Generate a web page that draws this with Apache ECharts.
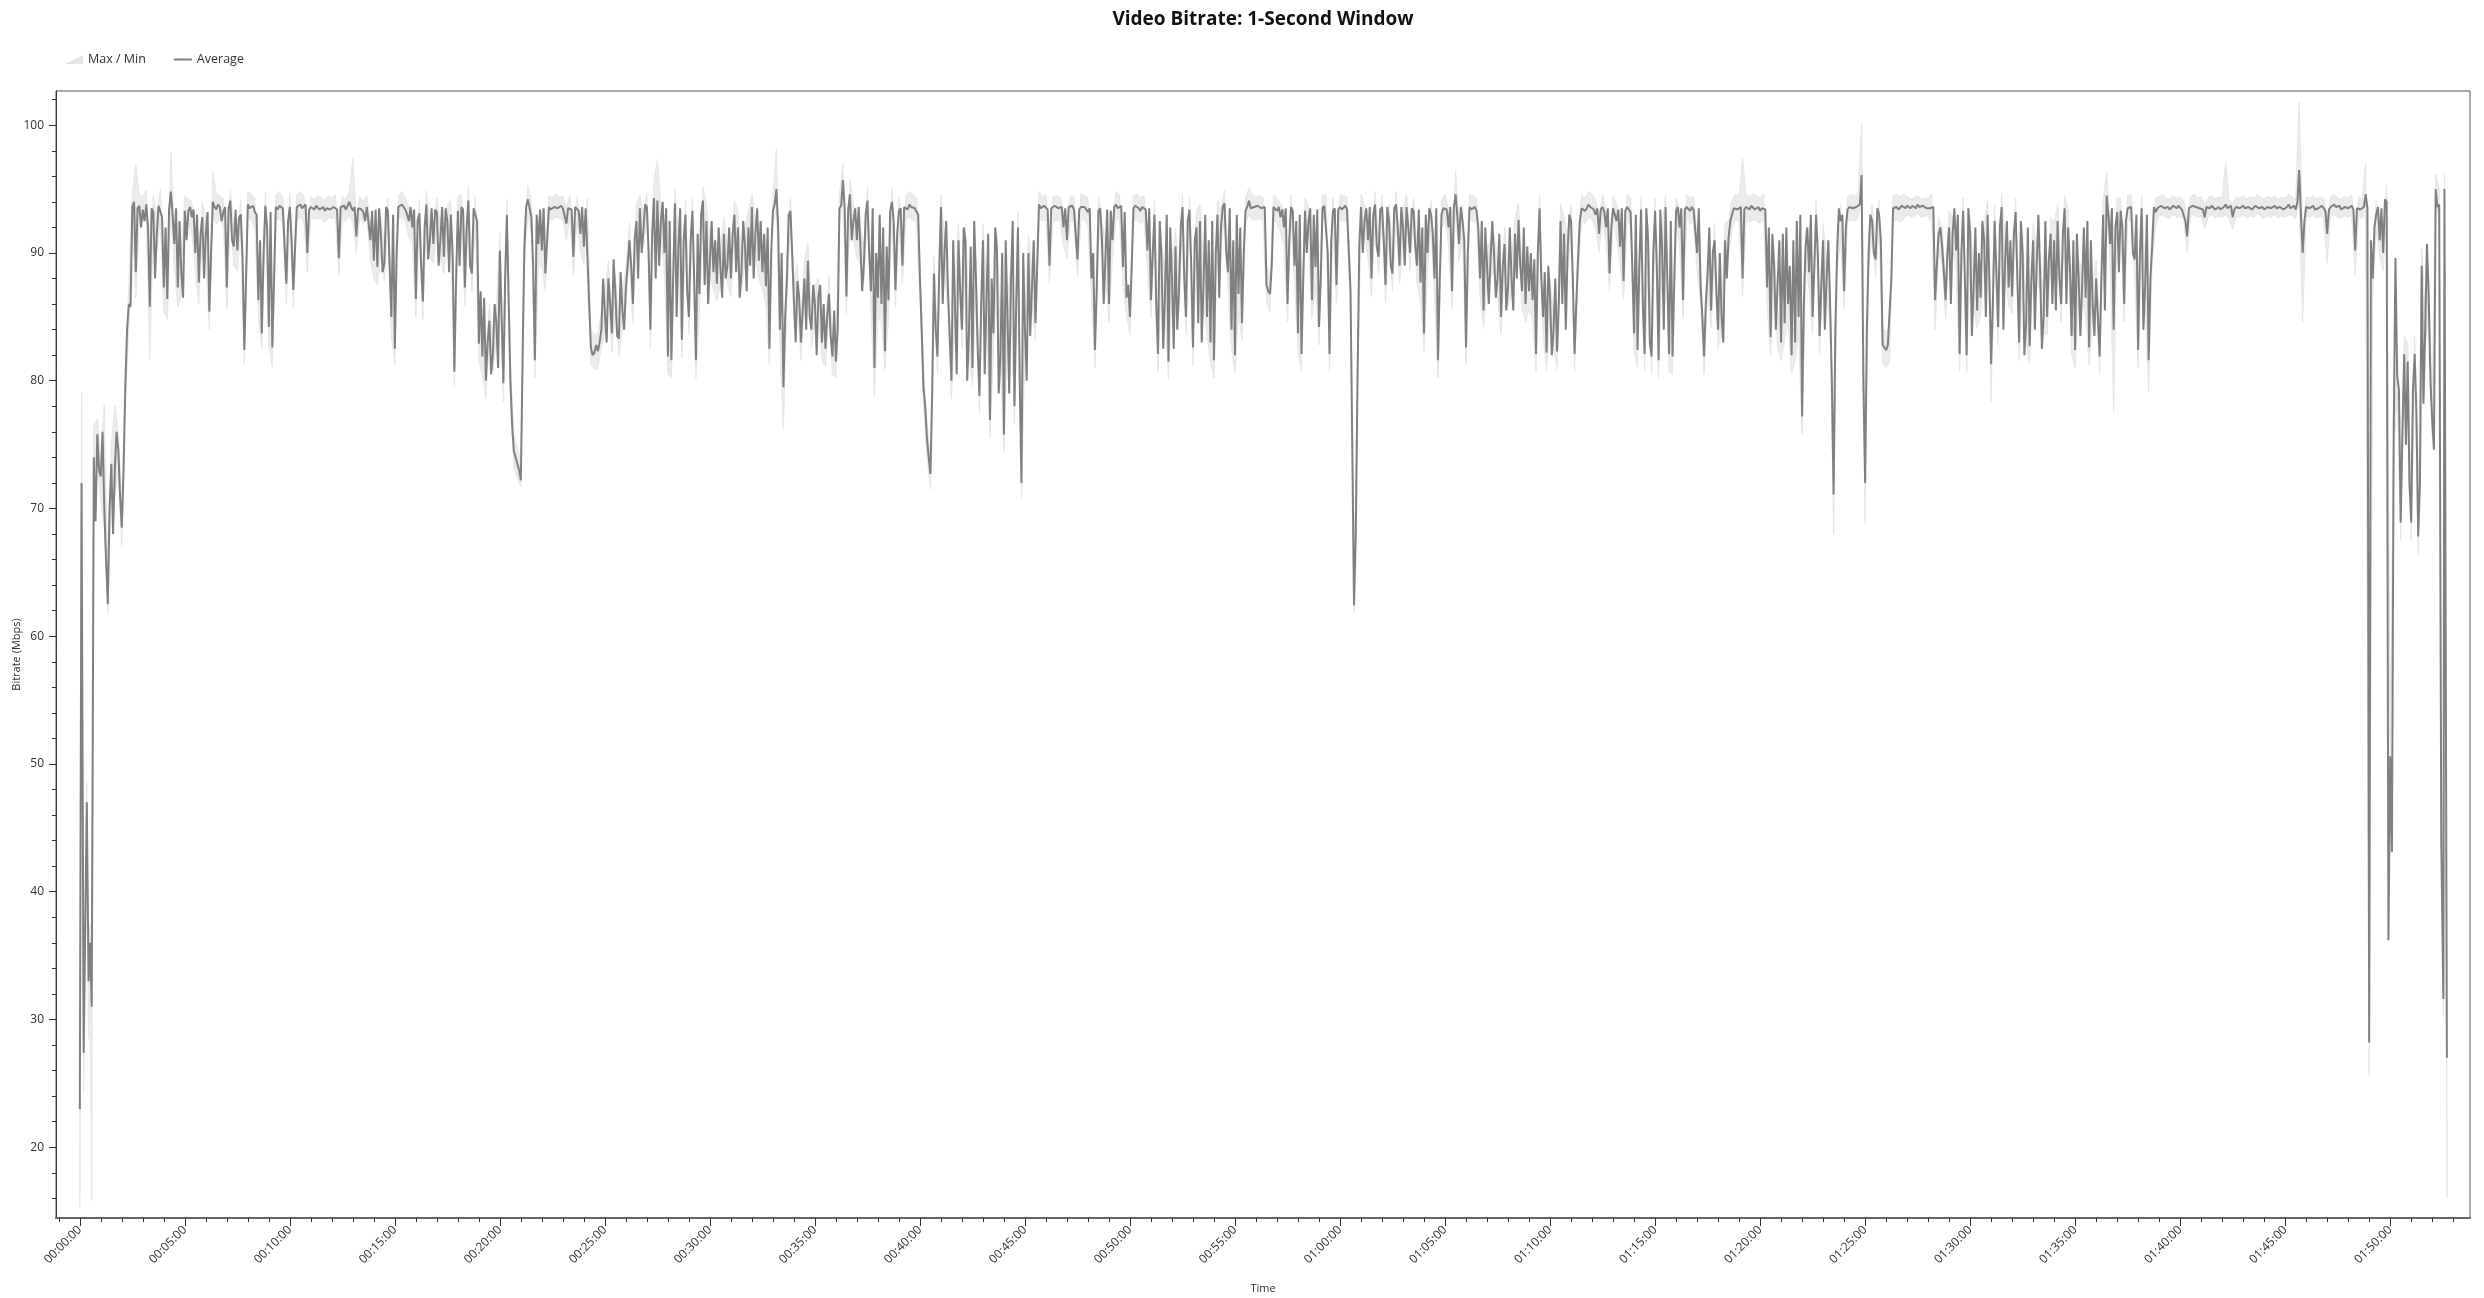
<!DOCTYPE html>
<html>
<head>
<meta charset="utf-8">
<script src="https://cdn.jsdelivr.net/npm/echarts@6/dist/echarts.min.js"></script>
<style>html,body{margin:0;padding:0;background:#fff}#chart{width:2484px;height:1298px}</style>
</head>
<body>
<div id="chart"></div>
<script>
const chartTitle = 'Video Bitrate: 1-Second Window';
const xAxisName = 'Time';
const yAxisName = 'Bitrate (Mbps)';
const xLabelValues = [0,300,600,900,1200,1500,1800,2100,2400,2700,3000,3300,3600,3900,4200,4500,4800,5100,5400,5700,6000,6300,6600];
const yLabelValues = [20,30,40,50,60,70,80,90,100];

// first seconds (irregular sampling)
const headTimes = [0, 5, 11, 20, 25, 29, 34];
const headAvg = [23.0, 72.0, 27.4, 47.0, 33.0, 36.0, 31.0];
const headMax = [24.5, 79.0, 28.6, 48.5, 34.5, 37.5, 32.2];
const headMin = [15.3, 70.0, 24.2, 45.0, 28.5, 32.0, 15.8];

// samples every 10 s from 00:00:40 to 01:52:20
const gridStart = 40;
const gridStep = 10;
const avgMbps = [
74.0,75.8,
72.5,70.0,62.5,73.5,73.0,74.6,
68.5,79.5,86.0,93.6,88.5,93.7,
93.4,93.8,85.8,93.2,91.5,93.6,
87.3,86.4,94.8,90.7,87.3,88.4,
93.3,93.3,92.8,90.0,87.7,92.8,
91.5,85.4,94.0,93.4,93.6,93.2,
87.3,94.1,90.5,90.2,93.0,82.4,
93.8,93.6,93.2,86.3,83.7,93.7,
84.2,82.6,93.6,93.7,93.5,87.6,
93.6,87.1,93.6,93.8,93.5,90.0,
93.6,93.4,93.6,93.5,93.3,93.6,
93.5,93.7,89.6,93.5,93.4,94.0,
93.3,91.3,93.6,93.2,93.6,91.0,
89.4,88.9,91.5,89.2,93.3,85.0,
82.5,93.6,93.8,93.4,92.5,92.0,
86.4,93.1,86.2,93.8,91.0,90.7,
93.2,91.0,89.7,92.5,93.0,80.7,
93.3,93.6,87.3,94.1,88.4,93.6,
82.9,81.9,80.0,84.7,82.1,84.5,
90.2,79.8,93.0,80.0,74.5,73.5,
72.2,90.5,94.2,92.8,81.6,90.7,
90.2,88.4,93.6,93.5,93.7,93.6,
93.5,92.3,93.6,89.7,93.5,91.5,
90.5,93.4,82.6,82.2,82.3,84.0,
85.3,88.0,83.7,86.8,83.3,85.5,
87.3,91.0,86.0,92.5,93.5,91.8,
93.6,84.0,94.3,94.1,92.5,90.0,
81.9,81.6,93.9,90.5,83.2,93.0,
85.0,93.3,81.6,86.8,94.1,92.5,
89.4,88.5,87.6,88.9,91.5,89.0,
88.0,93.0,92.0,88.4,90.7,92.0,
93.6,91.5,89.4,88.5,87.4,82.5,
93.3,95.0,84.0,79.5,88.0,93.3,
86.3,87.8,83.0,88.0,89.4,84.0,
86.0,86.6,83.0,82.5,86.8,81.9,
81.5,93.5,95.7,86.6,94.6,92.5,
91.0,90.5,89.2,94.1,87.0,81.0,
86.5,86.0,82.3,86.3,94.0,87.1,
93.3,89.0,93.6,93.8,93.6,93.4,
88.0,79.5,75.5,72.7,88.4,81.9,
93.6,90.0,87.0,80.0,86.0,91.0,
84.0,91.0,83.7,81.0,88.0,78.8,
91.0,86.3,76.9,83.7,90.2,82.0,
75.8,85.0,87.8,78.0,92.0,72.0,
84.0,90.0,87.3,84.5,93.8,93.5,
93.6,89.0,93.4,93.6,93.5,92.0,
91.0,93.5,93.4,89.5,93.6,93.6,
93.2,88.0,82.4,93.3,91.0,89.7,
86.0,91.0,93.8,93.6,88.9,86.5,
85.0,93.5,93.6,93.3,93.5,90.2,
86.3,93.0,82.1,89.7,86.8,81.5,
88.0,90.5,87.0,93.6,85.0,93.4,
82.6,92.0,92.5,87.5,85.0,83.0,
81.6,93.0,92.0,93.9,88.5,84.0,
82.0,86.8,84.5,93.3,94.1,93.6,
93.5,93.6,93.4,87.5,86.8,93.6,
93.3,92.8,92.0,86.0,93.6,89.0,
83.7,82.1,93.3,92.5,86.3,88.9,
84.2,93.5,93.6,82.1,93.3,87.5,
93.6,93.5,93.4,87.0,62.4,80.0,
93.6,92.5,91.0,88.0,93.8,89.7,
93.6,87.5,92.5,88.4,93.8,89.0,
92.0,93.6,90.0,93.3,89.0,87.7,
83.7,90.0,93.0,88.0,81.6,93.0,
93.6,92.0,87.0,94.6,90.7,92.5,
82.6,93.6,93.5,93.3,88.0,85.5,
89.0,89.5,89.9,88.0,85.0,90.7,
87.3,88.0,91.5,92.6,87.0,86.0,
87.0,86.3,82.1,93.5,85.0,82.2,
86.5,84.0,82.3,92.5,91.5,90.0,
92.5,82.1,89.5,93.5,93.3,93.8,
93.6,93.0,91.5,93.6,92.0,88.4,
93.5,92.5,90.5,87.8,93.6,93.2,
83.7,82.4,93.4,82.1,91.0,81.9,
93.3,81.6,90.5,93.6,82.1,81.9,
93.3,92.0,86.3,93.6,93.3,93.4,
90.0,87.5,81.9,88.4,85.5,91.0,
84.0,85.0,91.0,91.2,93.0,93.6,
93.5,88.0,93.6,93.4,93.6,93.5,
93.3,93.6,87.3,83.4,89.0,84.0,
83.0,84.5,86.0,82.0,83.0,85.0,
77.2,90.5,88.5,85.0,93.0,83.5,
91.0,88.0,86.0,71.1,90.0,92.5,
87.0,93.4,93.6,93.5,93.7,96.1,
72.0,90.0,92.5,89.5,93.0,82.8,
82.4,82.9,93.5,93.6,93.4,93.6,
93.7,93.5,93.6,93.8,93.5,93.6,
93.6,93.4,86.3,91.5,90.5,86.3,
92.0,91.5,90.2,82.1,93.3,82.0,
91.5,87.3,85.5,86.5,91.0,93.0,
81.3,92.5,84.2,93.6,89.4,87.3,
86.6,93.2,83.0,90.0,84.5,82.7,
91.0,89.0,88.5,85.0,85.0,91.5,
91.0,92.5,86.0,93.5,92.0,83.5,
82.4,88.0,87.5,86.5,82.6,86.0,
88.0,81.9,93.0,94.5,90.7,84.0,
93.2,93.3,86.0,93.5,93.6,89.5,
82.4,93.5,87.4,81.6,90.5,93.2,
93.6,93.8,93.5,93.4,93.7,93.5,
93.6,93.3,91.3,93.6,93.8,93.5,
93.6,92.8,93.5,93.7,93.4,93.6,
93.5,93.8,93.4,92.8,93.6,93.5,
93.7,93.4,93.6,93.5,93.8,93.6,
93.4,93.6,93.5,93.7,93.4,93.6,
93.5,93.8,93.6,93.4,96.5,90.0,
93.6,93.5,93.7,93.4,93.6,93.5,
91.5,93.6,93.8,93.5,93.4,93.6,
93.5,93.7,90.2,93.6,93.4,94.6,
28.2,88.0,93.0,91.0,90.0,94.0,
50.6,75.8,80.4,68.9,82.1,81.5,
68.9,82.1,67.8,89.0,84.0,86.7,
76.9,95.0,93.8
];
// samples half-way between the 10 s samples (00:00:45 ... 01:52:15)
const midMbps = [
69.0,73.0,
76.0,66.0,70.0,68.0,76.0,71.0,
73.0,84.0,85.8,94.0,93.5,92.0,
92.5,92.0,93.5,88.0,93.7,92.8,
92.0,93.4,93.0,93.5,92.5,86.5,
91.0,93.6,93.4,93.0,91.5,88.0,
93.2,90.0,93.6,93.8,92.5,93.6,
93.5,91.0,93.4,92.8,89.5,88.0,
93.5,93.7,93.0,91.0,90.0,92.0,
93.2,88.0,93.4,93.8,93.6,92.5,
91.0,90.5,93.7,93.5,93.8,93.4,
93.5,93.7,93.4,93.6,93.5,93.4,
93.6,93.4,93.6,93.7,93.5,93.6,
93.6,93.5,93.4,92.5,93.5,93.3,
93.4,93.5,88.5,93.6,89.0,93.0,
90.0,93.5,93.6,93.0,93.6,93.4,
92.5,89.0,92.0,89.5,93.5,93.4,
89.0,93.6,93.5,88.5,90.0,88.0,
89.0,93.4,92.0,89.0,93.5,92.5,
87.0,86.5,83.0,80.5,86.0,81.0,
85.0,88.0,86.5,76.5,74.0,73.0,
82.0,93.6,93.5,89.0,93.0,93.4,
93.5,91.0,93.4,93.6,93.5,93.7,
93.6,93.5,93.4,93.6,93.3,93.6,
93.5,86.0,82.0,82.8,83.0,88.0,
83.0,86.0,89.5,83.5,88.5,84.0,
89.0,89.0,91.0,88.0,90.0,93.8,
90.0,91.5,88.0,89.0,94.0,93.5,
92.5,88.0,85.0,93.5,91.0,87.0,
91.0,88.0,91.5,93.0,87.5,86.0,
92.5,91.0,92.0,86.5,88.0,92.0,
91.5,88.5,86.5,92.5,87.0,89.0,
88.0,93.5,92.5,91.5,92.0,90.0,
93.8,92.0,90.0,85.0,93.0,90.0,
83.0,86.5,85.5,84.0,85.0,87.5,
82.0,87.5,86.0,85.0,83.5,85.5,
84.0,93.7,93.5,93.4,91.0,93.5,
93.6,87.0,93.0,90.0,93.5,90.0,
93.0,92.0,90.5,93.3,92.5,91.5,
93.5,93.6,93.4,93.6,93.5,93.0,
84.0,78.0,74.0,79.0,84.0,88.5,
86.0,92.5,83.5,91.0,80.5,87.0,
92.0,80.0,90.5,92.5,82.5,86.0,
80.5,91.5,88.0,92.0,79.0,90.0,
91.0,79.0,92.5,86.0,80.0,90.0,
80.0,83.5,91.0,89.0,93.5,93.7,
93.4,93.5,93.7,93.5,93.6,93.5,
93.6,93.7,93.5,93.4,93.5,93.6,
93.5,90.0,87.0,93.5,86.0,93.4,
93.3,93.6,93.5,93.7,93.2,87.5,
89.0,93.7,93.5,93.6,93.4,93.5,
90.0,86.0,92.5,82.5,93.0,92.0,
82.5,84.0,92.0,88.0,92.5,89.0,
91.0,84.5,83.0,93.0,91.0,92.5,
90.0,86.5,93.6,90.0,93.5,91.0,
93.0,92.0,90.0,93.6,93.5,93.6,
93.7,93.5,93.6,87.0,89.0,93.5,
93.6,93.4,93.5,91.0,93.3,92.5,
93.0,88.0,90.0,93.5,93.0,93.4,
88.0,93.7,90.0,91.0,93.5,93.4,
93.4,93.7,93.5,75.0,68.0,90.5,
90.0,93.5,93.6,93.0,90.5,93.4,
91.0,93.6,89.0,93.5,92.0,93.6,
89.0,92.0,93.5,90.5,93.4,92.0,
93.0,93.5,91.5,93.5,88.0,93.5,
93.4,93.6,93.5,93.0,93.6,91.0,
90.0,93.4,93.6,92.0,92.5,92.0,
86.0,92.5,86.5,91.5,89.0,85.5,
92.0,85.5,88.0,89.0,92.0,90.5,
90.0,89.5,90.0,88.0,88.5,89.0,
82.0,88.0,86.0,86.0,84.0,93.0,
88.0,86.0,92.5,93.6,93.5,93.6,
93.4,93.5,93.4,93.2,93.5,92.0,
93.6,93.4,93.5,93.3,93.5,89.0,
93.0,89.0,86.0,93.5,83.0,90.0,
89.0,93.4,84.0,88.0,92.5,88.0,
93.6,93.5,93.4,93.5,93.6,93.4,
93.5,85.0,86.0,92.0,90.0,87.0,
90.0,83.0,88.0,92.5,93.5,93.4,
93.6,93.4,93.5,93.7,93.4,93.6,
93.5,93.4,92.0,91.5,84.0,91.0,
91.5,92.0,89.0,91.0,92.5,93.0,
86.0,92.0,93.0,89.0,90.0,87.5,
84.0,91.0,80.0,84.0,93.5,93.0,
92.0,93.6,93.5,93.6,93.8,80.0,
84.0,93.0,90.0,93.5,91.0,82.6,
82.8,88.0,93.6,93.4,93.7,93.5,
93.6,93.7,93.5,93.6,93.7,93.5,
93.5,93.6,89.0,92.0,88.5,90.0,
86.0,93.5,93.0,90.0,88.0,93.5,
83.5,92.0,90.0,92.5,85.0,88.0,
86.0,88.5,92.0,84.0,92.5,91.0,
91.5,88.0,92.5,82.0,92.0,88.0,
84.0,93.0,82.5,92.5,89.5,86.0,
85.5,88.0,91.5,86.0,89.0,91.0,
91.5,83.5,92.0,92.5,91.0,83.5,
85.0,88.0,85.5,93.0,93.5,92.0,
88.5,92.0,92.5,93.4,90.0,93.0,
90.0,84.0,93.0,88.0,93.6,93.5,
93.7,93.5,93.6,93.5,93.6,93.7,
93.4,92.5,93.5,93.7,93.6,93.5,
93.4,93.6,93.5,93.6,93.5,93.4,
93.6,93.5,93.7,93.4,93.5,93.6,
93.5,93.6,93.4,93.7,93.5,93.6,
93.5,93.7,93.6,93.5,93.6,93.4,
93.6,93.5,93.7,94.0,93.0,92.5,
93.5,93.6,93.4,93.5,93.7,93.3,
93.4,93.5,93.6,93.7,93.5,93.6,
93.6,93.4,93.5,93.4,93.6,93.5,
91.0,92.0,93.6,93.5,94.2,36.2,
43.1,89.6,79.3,76.0,75.0,72.0,
79.3,77.5,72.0,78.2,90.7,80.0,
74.6,93.6
];
const maxMbps = [
76.5,77.0,
74.0,78.2,64.0,75.0,78.0,76.0,
70.0,81.0,87.5,94.6,96.9,94.6,
94.4,94.9,87.0,94.5,92.8,95.0,
88.8,87.9,97.9,92.0,88.8,89.8,
94.5,94.2,94.0,91.5,89.0,94.0,
92.8,86.8,96.3,94.6,94.5,94.2,
88.8,95.0,92.0,91.5,94.2,83.8,
94.8,94.6,94.3,87.8,85.0,94.7,
85.5,84.0,94.5,94.8,94.4,89.0,
94.7,88.5,94.6,94.8,94.5,91.4,
94.4,94.2,94.5,94.3,94.1,94.5,
94.3,94.6,91.0,94.4,94.2,94.9,
97.4,92.6,94.4,94.1,94.5,92.4,
90.8,90.2,92.8,90.6,94.3,86.4,
83.9,94.5,94.8,94.3,93.6,93.2,
87.8,94.2,87.6,94.9,92.4,92.0,
94.3,92.3,91.0,93.8,94.2,82.0,
94.4,94.6,88.8,95.2,89.8,94.5,
84.4,83.3,81.5,86.0,83.5,86.0,
91.6,81.2,94.2,81.4,75.8,74.8,
73.5,91.9,95.3,94.0,83.0,92.0,
91.5,89.8,94.5,94.3,94.6,94.4,
94.4,93.5,94.5,91.0,94.4,92.8,
91.8,94.3,84.0,83.6,83.7,85.4,
86.8,89.4,85.2,88.2,84.7,87.0,
88.8,92.4,87.5,93.8,94.5,93.1,
94.7,85.5,95.6,97.3,93.8,91.4,
83.3,83.0,95.0,91.8,84.6,94.1,
86.5,94.4,83.0,88.2,95.2,93.8,
90.8,89.9,89.0,90.3,92.8,90.4,
89.4,94.1,93.3,89.8,92.0,93.3,
94.6,92.8,90.8,89.9,88.8,83.9,
94.4,98.2,85.4,80.9,89.4,94.4,
87.8,89.2,84.4,89.4,90.8,85.4,
87.5,88.0,84.4,83.9,88.2,83.3,
82.9,94.6,97.0,88.0,95.7,93.8,
92.3,91.9,90.6,95.2,88.4,82.4,
88.0,87.4,83.7,87.7,95.1,88.5,
94.4,90.4,94.5,94.8,94.6,94.3,
89.4,80.9,76.9,74.0,89.8,83.3,
94.6,91.4,88.4,81.4,87.4,92.3,
85.4,92.3,85.1,82.4,89.4,80.2,
92.3,87.7,78.3,85.1,91.5,83.4,
77.2,86.4,89.2,79.4,93.3,73.4,
85.4,91.4,88.7,85.9,94.8,94.4,
94.6,90.4,94.4,94.5,94.4,93.3,
92.3,94.5,94.4,90.9,94.6,94.5,
94.3,89.4,83.8,94.4,92.3,91.1,
87.4,92.3,94.8,94.6,90.3,87.9,
86.4,94.5,94.6,94.3,94.5,91.6,
87.7,94.1,83.5,91.1,88.2,82.9,
89.4,91.9,88.4,94.6,86.4,94.4,
84.0,93.3,93.8,88.9,86.4,84.4,
83.0,94.1,93.3,94.9,89.9,85.4,
83.4,88.2,85.9,94.3,95.1,94.5,
94.4,94.5,94.3,88.9,88.2,94.5,
94.3,93.9,93.3,87.4,94.6,90.4,
85.1,83.5,94.3,93.8,87.7,90.3,
85.6,94.5,94.6,83.5,94.3,88.9,
94.6,94.5,94.4,88.4,63.8,81.4,
94.6,93.8,92.3,89.4,94.8,91.1,
94.6,88.9,93.8,89.8,94.8,90.4,
93.3,94.6,91.4,94.3,90.4,89.1,
85.1,91.4,94.1,89.4,83.0,94.1,
94.6,93.3,88.4,96.5,92.1,93.8,
84.0,94.6,94.5,94.3,89.4,86.9,
90.4,90.9,91.3,89.4,86.4,92.1,
88.7,89.4,92.8,93.9,88.4,87.4,
88.4,87.7,83.5,94.5,86.4,83.6,
87.9,85.4,83.7,93.8,92.8,91.4,
93.8,83.5,90.9,94.5,94.3,94.8,
94.6,94.1,92.8,94.6,93.3,89.8,
94.5,93.8,91.9,89.2,94.6,94.3,
85.1,83.8,94.4,83.5,92.3,83.3,
94.3,83.0,91.9,94.6,83.5,83.3,
94.3,93.3,87.7,94.6,94.3,94.4,
91.4,88.9,83.3,89.8,86.9,92.3,
85.4,86.4,92.3,92.5,94.1,94.6,
94.5,97.4,94.6,94.4,94.6,94.5,
94.3,94.6,88.7,84.8,90.4,85.4,
84.4,85.9,87.4,83.4,84.4,86.4,
78.6,91.9,89.9,86.4,94.1,84.9,
92.3,89.4,87.4,72.5,91.4,93.8,
88.4,94.4,94.6,94.5,94.7,100.1,
73.4,91.4,93.8,90.9,94.1,84.2,
83.8,84.3,94.5,94.6,94.4,94.6,
94.4,94.2,94.3,94.5,94.2,94.3,
94.3,94.6,87.7,92.8,91.9,87.7,
93.3,92.8,91.6,83.5,94.3,83.4,
92.8,88.7,86.9,87.9,92.3,94.1,
82.7,93.8,85.6,94.6,90.8,88.7,
88.0,94.3,84.4,91.4,85.9,84.1,
92.3,90.4,89.9,86.4,86.4,92.8,
92.3,93.8,87.4,94.5,93.3,84.9,
83.8,89.4,88.9,87.9,84.0,87.4,
89.4,83.3,94.1,96.4,92.1,85.4,
94.3,94.3,87.4,94.5,94.6,90.9,
83.8,94.5,88.8,83.0,91.9,94.3,
94.4,94.6,94.3,94.2,94.5,94.3,
94.4,94.1,92.5,94.4,94.6,94.3,
94.4,93.8,94.3,94.5,94.2,94.4,
94.3,97.1,94.2,93.8,94.4,94.3,
94.5,94.2,94.4,94.3,94.6,94.4,
94.2,94.4,94.3,94.5,94.2,94.4,
94.3,94.6,94.4,94.2,101.8,91.2,
94.4,94.3,94.5,94.2,94.4,94.3,
92.7,94.4,94.6,94.3,94.2,94.4,
94.3,94.5,91.4,94.4,94.2,97.0,
29.5,89.4,94.1,92.3,91.4,95.3,
52.0,77.2,81.8,70.3,83.5,82.9,
70.3,83.5,69.2,90.4,85.4,88.1,
78.3,96.2,95.0
];
const minMbps = [
72.5,74.0,
70.5,68.5,61.8,72.0,71.0,73.0,
67.0,78.0,84.0,92.5,86.5,92.7,
92.5,92.8,81.7,92.0,90.2,92.6,
85.5,84.8,93.2,89.0,85.8,86.8,
92.2,92.3,91.6,88.5,86.0,91.5,
90.0,84.0,92.8,92.3,92.6,92.0,
85.6,93.0,89.0,88.6,91.8,81.3,
92.8,92.5,92.0,85.0,82.5,92.6,
82.8,81.1,92.6,92.7,92.4,86.0,
92.5,85.6,92.5,92.8,92.3,88.5,
92.8,92.6,92.7,92.7,92.4,92.8,
92.7,92.8,88.2,92.6,92.5,93.0,
92.3,90.0,92.8,92.3,92.7,89.6,
88.0,87.5,90.0,87.8,92.2,83.6,
81.2,92.7,92.8,92.5,91.2,90.8,
85.0,92.0,84.8,92.8,89.6,89.2,
92.1,89.5,88.3,91.2,91.9,79.5,
92.3,92.6,85.8,93.0,87.0,92.6,
81.5,80.5,78.6,83.2,80.8,83.0,
88.8,78.4,91.8,78.8,73.2,72.4,
71.7,89.0,93.0,91.5,80.2,89.3,
88.8,87.0,92.7,92.6,92.8,92.7,
92.6,91.0,92.7,88.3,92.5,90.1,
89.1,92.4,81.3,80.9,81.0,82.6,
83.8,86.5,82.2,85.3,81.9,84.0,
85.8,89.6,84.5,91.2,92.5,90.4,
92.6,82.6,93.1,93.0,91.2,88.6,
80.6,80.2,92.8,89.1,81.8,91.8,
83.6,92.2,80.2,85.3,93.0,91.2,
88.0,87.1,86.2,87.5,90.1,87.6,
86.6,91.8,90.7,87.0,89.3,90.6,
92.6,90.1,88.0,87.1,86.0,81.2,
92.2,93.5,82.6,76.2,86.6,92.2,
84.8,86.4,81.6,86.6,88.0,82.6,
84.6,85.2,81.6,81.1,85.4,80.5,
80.2,92.4,94.2,85.2,93.4,91.2,
89.6,89.1,87.8,93.0,85.6,78.8,
85.0,84.6,80.9,84.9,92.9,85.7,
92.2,87.6,92.7,92.8,92.6,92.4,
86.6,78.1,74.1,71.5,87.0,80.5,
92.5,88.6,85.6,78.6,84.6,89.6,
82.6,89.6,82.3,79.6,86.6,77.4,
89.6,84.9,75.5,82.3,88.8,80.6,
74.4,83.6,86.4,76.6,90.6,70.8,
82.6,88.6,85.9,83.1,92.7,92.5,
92.6,87.6,92.4,92.6,92.5,90.6,
89.6,92.5,92.4,88.1,92.6,92.6,
92.1,86.6,81.0,92.2,89.6,88.3,
84.6,89.6,92.8,92.6,87.5,85.1,
83.6,92.5,92.6,92.3,92.5,88.8,
84.9,91.9,80.7,88.3,85.4,80.1,
86.6,89.1,85.6,92.6,83.6,92.4,
81.2,90.6,91.2,86.1,83.6,81.6,
80.2,91.9,90.6,92.8,87.1,82.6,
80.6,85.4,83.1,92.3,93.0,92.6,
92.6,92.7,92.5,86.1,85.4,92.6,
92.3,91.6,90.6,84.6,92.6,87.6,
82.3,80.7,92.3,91.2,84.9,87.5,
82.8,92.5,92.6,80.7,92.3,86.1,
92.6,92.5,92.4,85.6,61.8,78.6,
92.6,91.2,89.6,86.6,92.8,88.3,
92.6,86.1,91.2,87.0,92.8,87.6,
90.6,92.6,88.6,92.3,87.6,86.3,
82.3,88.6,91.9,86.6,80.2,91.9,
92.6,90.6,85.6,93.4,89.3,91.2,
81.2,92.6,92.5,92.3,86.6,84.1,
87.6,88.1,88.5,86.6,83.6,89.3,
85.9,86.6,90.1,91.3,85.6,84.6,
85.6,84.9,80.7,92.5,83.6,80.8,
85.1,82.6,80.9,91.2,90.1,88.6,
91.2,80.7,88.1,92.5,92.3,92.8,
92.6,91.9,90.1,92.6,90.6,87.0,
92.5,91.2,89.1,86.4,92.6,92.1,
82.3,81.0,92.4,80.7,89.6,80.5,
92.3,80.2,89.1,92.6,80.7,80.5,
92.3,90.6,84.9,92.6,92.3,92.4,
88.6,86.1,80.5,87.0,84.1,89.6,
82.6,83.6,89.6,89.8,91.9,92.6,
92.5,86.6,92.6,92.4,92.6,92.5,
92.3,92.6,85.9,82.0,87.6,82.6,
81.6,83.1,84.6,80.6,81.6,83.6,
75.8,89.1,87.1,83.6,91.9,82.1,
89.6,86.6,84.6,68.0,88.6,91.2,
85.6,92.4,92.6,92.5,92.7,94.6,
68.8,88.6,91.2,88.1,91.9,81.4,
81.0,81.5,92.5,92.6,92.4,92.6,
93.0,92.8,92.9,93.1,92.8,92.9,
92.9,92.4,84.0,90.1,89.1,84.9,
90.6,90.1,88.8,80.7,92.3,80.6,
90.1,85.9,84.1,85.1,89.6,91.9,
78.3,91.2,82.8,92.6,88.0,85.9,
85.2,92.1,81.6,88.6,83.1,81.3,
89.6,87.6,87.1,83.6,83.6,90.1,
89.6,91.2,84.6,92.5,90.6,82.1,
81.0,86.6,86.1,85.1,81.2,84.6,
86.6,80.5,91.9,93.3,89.3,77.6,
92.1,92.3,84.6,92.5,92.6,88.1,
81.0,92.5,86.0,79.2,89.1,92.1,
92.9,93.0,92.8,92.7,93.0,92.8,
92.9,92.6,90.0,92.9,93.0,92.8,
92.9,91.9,92.8,93.0,92.7,92.9,
92.8,93.0,92.7,91.8,92.9,92.8,
93.0,92.7,92.9,92.8,93.1,92.9,
92.7,92.9,92.8,93.0,92.7,92.9,
92.8,93.0,92.9,92.7,94.0,84.6,
92.9,92.8,93.0,92.7,92.9,92.8,
89.2,92.9,93.0,92.8,92.7,92.9,
92.8,93.0,88.3,92.9,92.7,93.4,
25.6,86.6,91.9,89.6,88.6,93.0,
49.0,74.4,79.0,67.5,80.7,80.1,
67.5,80.7,66.4,87.6,82.6,85.3,
75.5,93.8,92.6
];

// last seconds (irregular sampling)
const tailTimes = [6746, 6752, 6755, 6762];
const tailAvg = [43.7, 31.6, 95.0, 27.0];
const tailMax = [45.0, 33.0, 96.3, 28.4];
const tailMin = [42.3, 30.2, 93.8, 16.0];

if (avgMbps.length !== maxMbps.length || avgMbps.length !== minMbps.length || midMbps.length !== avgMbps.length - 1) {
  throw new Error('length mismatch ' + avgMbps.length + ' ' + maxMbps.length + ' ' + minMbps.length + ' ' + midMbps.length);
}

// band (max / min) sampled on the 10 s grid
const bandTimes = headTimes.concat(avgMbps.map((_, i) => gridStart + i * gridStep), tailTimes);
const bandMax = headMax.concat(maxMbps, tailMax);
const bandMin = headMin.concat(minMbps, tailMin);

// average line: 10 s grid plus half-way samples
const avgLine = headTimes.map((t, i) => [t, headAvg[i]]);
avgMbps.forEach((v, i) => {
  const t = gridStart + i * gridStep;
  avgLine.push([t, v]);
  if (i < midMbps.length) avgLine.push([t + gridStep / 2, midMbps[i]]);
});
tailTimes.forEach((t, i) => avgLine.push([t, tailAvg[i]]));

function pad(n) { return (n < 10 ? '0' : '') + n; }
function hms(s) {
  s = Math.round(s);
  const h = Math.floor(s / 3600), m = Math.floor((s % 3600) / 60), sec = s % 60;
  return pad(h) + ':' + pad(m) + ':' + pad(sec);
}

const FONT = '"Open Sans", "Noto Sans", sans-serif';
const chart = echarts.init(document.getElementById('chart'), null, { renderer: 'canvas' });

chart.setOption({
  animation: false,
  backgroundColor: '#ffffff',
  textStyle: { fontFamily: FONT },
  title: {
    text: chartTitle,
    left: 1258,
    top: 5,
    textAlign: 'center',
    textStyle: { fontFamily: FONT, fontSize: 19, fontWeight: 'bold', color: '#111' }
  },
  legend: {
    left: 60,
    top: 48,
    itemWidth: 18,
    itemHeight: 10,
    itemGap: 28,
    textStyle: { fontFamily: FONT, fontSize: 12.5, color: '#333' },
    data: [
      { name: 'Max / Min', icon: 'path://M0,12 L24,0 L24,12 Z', itemStyle: { color: '#e4e4e4' } },
      { name: 'Average', icon: 'path://M0,0 M18,10 M0,4 L18,4 L18,6 L0,6 Z', itemStyle: { color: '#808080' } }
    ]
  },
  grid: {
    left: 56, right: 14, top: 91, bottom: 80,
    containLabel: false,
    outerBoundsMode: 'none',
    show: true, borderColor: '#555', borderWidth: 1, backgroundColor: 'transparent'
  },
  xAxis: {
    type: 'value',
    min: -68,
    max: 6828,
    splitNumber: 23,
    name: xAxisName,
    nameLocation: 'middle',
    nameGap: 65,
    nameTextStyle: { fontFamily: FONT, fontSize: 11, color: '#333' },
    axisLine: { show: true, onZero: false, lineStyle: { color: '#666', width: 2 } },
    axisTick: { show: true, length: 8, customValues: xLabelValues, lineStyle: { color: '#333', width: 1 } },
    minorTick: { show: true, splitNumber: 5, length: 4, lineStyle: { color: '#333', width: 1 } },
    axisLabel: {
      customValues: xLabelValues,
      rotate: 45,
      margin: 10,
      fontFamily: FONT, fontSize: 12, color: '#333',
      formatter: function (v) { return hms(v); }
    },
    splitLine: { show: false }
  },
  yAxis: {
    type: 'value',
    min: 14.46,
    max: 102.68,
    splitNumber: 9,
    name: yAxisName,
    nameLocation: 'middle',
    nameGap: 34,
    nameMoveOverlap: false,
    nameTextStyle: { fontFamily: FONT, fontSize: 11, color: '#333' },
    axisLine: { show: true, onZero: false, lineStyle: { color: '#333', width: 1 } },
    axisTick: { show: true, length: 7, customValues: yLabelValues, lineStyle: { color: '#333', width: 1 } },
    minorTick: { show: true, splitNumber: 5, length: 4, lineStyle: { color: '#333', width: 1 } },
    axisLabel: { customValues: yLabelValues, margin: 12, fontFamily: FONT, fontSize: 12, color: '#333' },
    splitLine: { show: false }
  },
  series: [
    {
      name: 'Max / Min',
      type: 'custom',
      silent: true,
      z: 2,
      itemStyle: { color: '#e4e4e4' },
      data: [[bandTimes[0], bandMax[0]]],
      renderItem: function (params, api) {
        const pts = [];
        for (let i = 0; i < bandTimes.length; i++) pts.push(api.coord([bandTimes[i], bandMax[i]]));
        for (let i = bandTimes.length - 1; i >= 0; i--) pts.push(api.coord([bandTimes[i], bandMin[i]]));
        return {
          type: 'polygon',
          shape: { points: pts },
          style: { fill: '#ebebeb', stroke: '#e6e6e6', lineWidth: 1 }
        };
      }
    },
    {
      name: 'Average',
      type: 'line',
      z: 3,
      symbol: 'none',
      showSymbol: false,
      sampling: null,
      clip: true,
      lineStyle: { color: '#808080', width: 2 },
      itemStyle: { color: '#808080' },
      data: avgLine
    }
  ]
});
</script>
</body>
</html>
